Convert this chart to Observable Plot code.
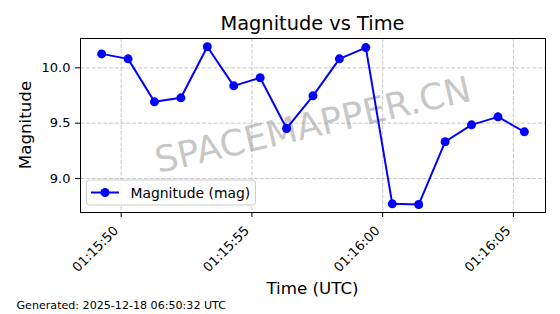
<!DOCTYPE html>
<html><head><meta charset="utf-8">
<script src="https://cdn.jsdelivr.net/npm/d3@7"></script>
<script src="https://cdn.jsdelivr.net/npm/@observablehq/plot@0.6"></script>
<style>
body{margin:0;background:#fff}
#wrap{position:relative;width:560px;height:314px;font-family:"DejaVu Sans",sans-serif}
#wrap svg{position:absolute;left:0;top:0}
</style>
</head><body><div id="wrap"></div>
<script>
const dateStr = "2025-12-18";
const times = ["01:15:49.252","01:15:50.263","01:15:51.273","01:15:52.284","01:15:53.294","01:15:54.305",
  "01:15:55.315","01:15:56.326","01:15:57.336","01:15:58.347","01:15:59.357","01:16:00.368",
  "01:16:01.378","01:16:02.389","01:16:03.399","01:16:04.410","01:16:05.420"];
const magnitudes = [10.126,10.081,9.693,9.729,10.190,9.837,9.910,9.452,9.747,10.081,10.183,
  8.771,8.765,9.332,9.485,9.557,9.422];
const xTickLabels = ["01:15:50","01:15:55","01:16:00","01:16:05"];
const yTicks = [9.0, 9.5, 10.0];
const xDomain = ["01:15:48.444","01:16:06.228"];
const yDomain = [8.693, 10.265];
const seriesName = "Magnitude (mag)";
const titleText = "Magnitude vs Time";
const xLabel = "Time (UTC)";
const yLabel = "Magnitude";
const captionText = "Generated: 2025-12-18 06:50:32 UTC";
const watermark = "SPACEMAPPER.CN";

const parse = s => new Date(`${dateStr}T${s}Z`);
const data = times.map((t, i) => ({time: parse(t), mag: magnitudes[i]}));
const xTicks = xTickLabels.map(parse);
const grid = {stroke: "#b0b0b0", strokeOpacity: 0.7, strokeWidth: 1, strokeDasharray: "4,1.8"};

const chart = Plot.plot({
  width: 560, height: 314,
  marginLeft: 80, marginRight: 15, marginTop: 38, marginBottom: 102,
  style: {fontFamily: "DejaVu Sans", fontSize: "13px", color: "black", background: "transparent"},
  x: {type: "utc", domain: xDomain.map(parse)},
  y: {domain: yDomain},
  marks: [
    Plot.gridX(xTicks, grid),
    Plot.gridY(yTicks, grid),
    Plot.text([watermark], {frameAnchor: "middle", text: d => d, rotate: -13, fontSize: 36, fill: "gray", fillOpacity: 0.45}),
    Plot.line(data, {x: "time", y: "mag", stroke: "#0000ff", strokeWidth: 2}),
    Plot.dot(data, {x: "time", y: "mag", r: 4.5, fill: "#0000ff"}),
    Plot.frame({stroke: "black", strokeWidth: 1}),
    Plot.axisX(xTicks, {tickFormat: d3.utcFormat("%H:%M:%S"), tickRotate: -45, tickSize: 5, tickPadding: 6, label: null, fontSize: 13}),
    Plot.axisY(yTicks, {tickFormat: d3.format(".1f"), tickSize: 5, tickPadding: 5, label: null, fontSize: 13})
  ]
});
const wrap = document.getElementById("wrap");
wrap.appendChild(chart);
// shift rotated x tick labels to matplotlib-like right/top alignment
d3.select(chart).selectAll("g[aria-label='x-axis tick label']").attr("transform", function() {
  const t = d3.select(this).attr("transform") || "";
  return t + " translate(-5,5)";
});

const ov = d3.select(wrap).append("svg").attr("width", 560).attr("height", 314)
  .style("font-family", "DejaVu Sans").style("pointer-events", "none");
ov.append("text").attr("x", 312.5).attr("y", 30).attr("text-anchor", "middle").attr("font-size", 19.4).text(titleText);
ov.append("text").attr("x", 312.5).attr("y", 294).attr("text-anchor", "middle").attr("font-size", 16.7).text(xLabel);
ov.append("text").attr("transform", "translate(30.5,125) rotate(-90)").attr("text-anchor", "middle").attr("font-size", 16.7).text(yLabel);
ov.append("text").attr("x", 16.5).attr("y", 309).attr("font-size", 11.1).text(captionText);
const lg = ov.append("g");
lg.append("rect").attr("x", 86.5).attr("y", 180).attr("width", 169).attr("height", 25).attr("rx", 3)
  .attr("fill", "white").attr("fill-opacity", 0.8).attr("stroke", "#cccccc");
lg.append("line").attr("x1", 91).attr("x2", 119).attr("y1", 192.5).attr("y2", 192.5).attr("stroke", "#0000ff").attr("stroke-width", 2);
lg.append("circle").attr("cx", 105).attr("cy", 192.5).attr("r", 4.5).attr("fill", "#0000ff");
lg.append("text").attr("x", 130.5).attr("y", 197.5).attr("font-size", 13.9).text(seriesName);
</script>
</body></html>
